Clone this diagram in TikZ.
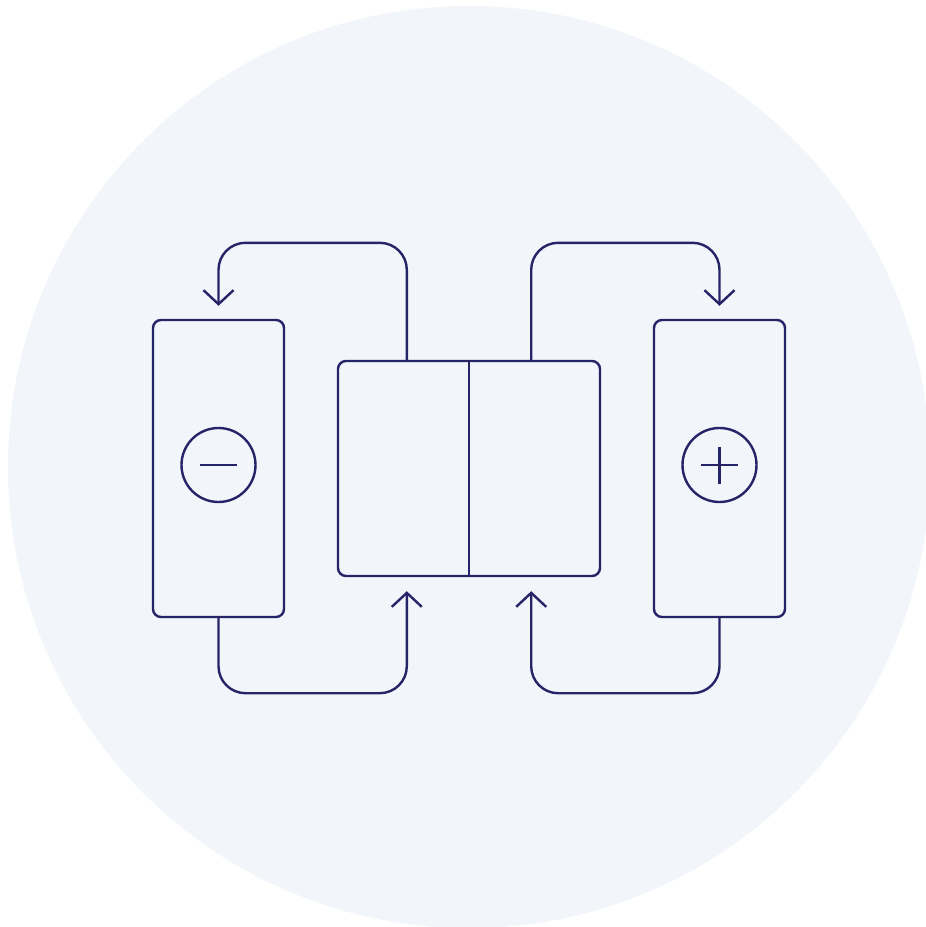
\documentclass[tikz,border=0pt]{standalone}
\usetikzlibrary{arrows.meta,calc}
\definecolor{bgc}{HTML}{F2F5F9}
\definecolor{ink}{HTML}{262468}
\begin{document}
\begin{tikzpicture}[x=1pt,y=-1pt,
  ln/.style={draw=ink,line width=2.4pt},
  cell/.style={ln,rectangle,rounded corners=8pt,inner sep=0pt},
  sign/.style={ln,circle,minimum size=74pt,inner sep=0pt},
  conn/.style={ln,rounded corners=27pt,-{Straight Barb[length=14pt,width=30pt]}}]
\useasboundingbox (0,0) rectangle (926,927);
\clip (0,0) rectangle (926,927);
\fill[bgc] (469,467) circle[radius=461];
\node[cell,minimum width=131pt,minimum height=297pt] (lb) at (218.5,468.5) {};
\node[cell,minimum width=131pt,minimum height=297pt] (rb) at (719.5,468.5) {};
\node[cell,minimum width=262pt,minimum height=215pt] (mid) at (469,468.5) {};
\draw[ln] (mid.north) -- (mid.south);
\node[sign] (mc) at (218.5,465) {};
\node[sign] (pc) at (719.5,465) {};
\draw[ln] ([xshift=-18.5pt]mc.center) -- ([xshift=18.5pt]mc.center);
\draw[ln] ([xshift=-18.5pt]pc.center) -- ([xshift=18.5pt]pc.center);
\draw[ln] ([yshift=-18.5pt]pc.center) -- ([yshift=18.5pt]pc.center);
\draw[conn] ([xshift=70pt]mid.north west) -- ++(0,-117) -| ([yshift=13pt]lb.north);
\draw[conn] ([xshift=-70pt]mid.north east) -- ++(0,-117) -| ([yshift=13pt]rb.north);
\draw[conn] (lb.south) -- ++(0,75) -| ([xshift=70pt,yshift=-14pt]mid.south west);
\draw[conn] (rb.south) -- ++(0,75) -| ([xshift=-70pt,yshift=-14pt]mid.south east);
\end{tikzpicture}
\end{document}
